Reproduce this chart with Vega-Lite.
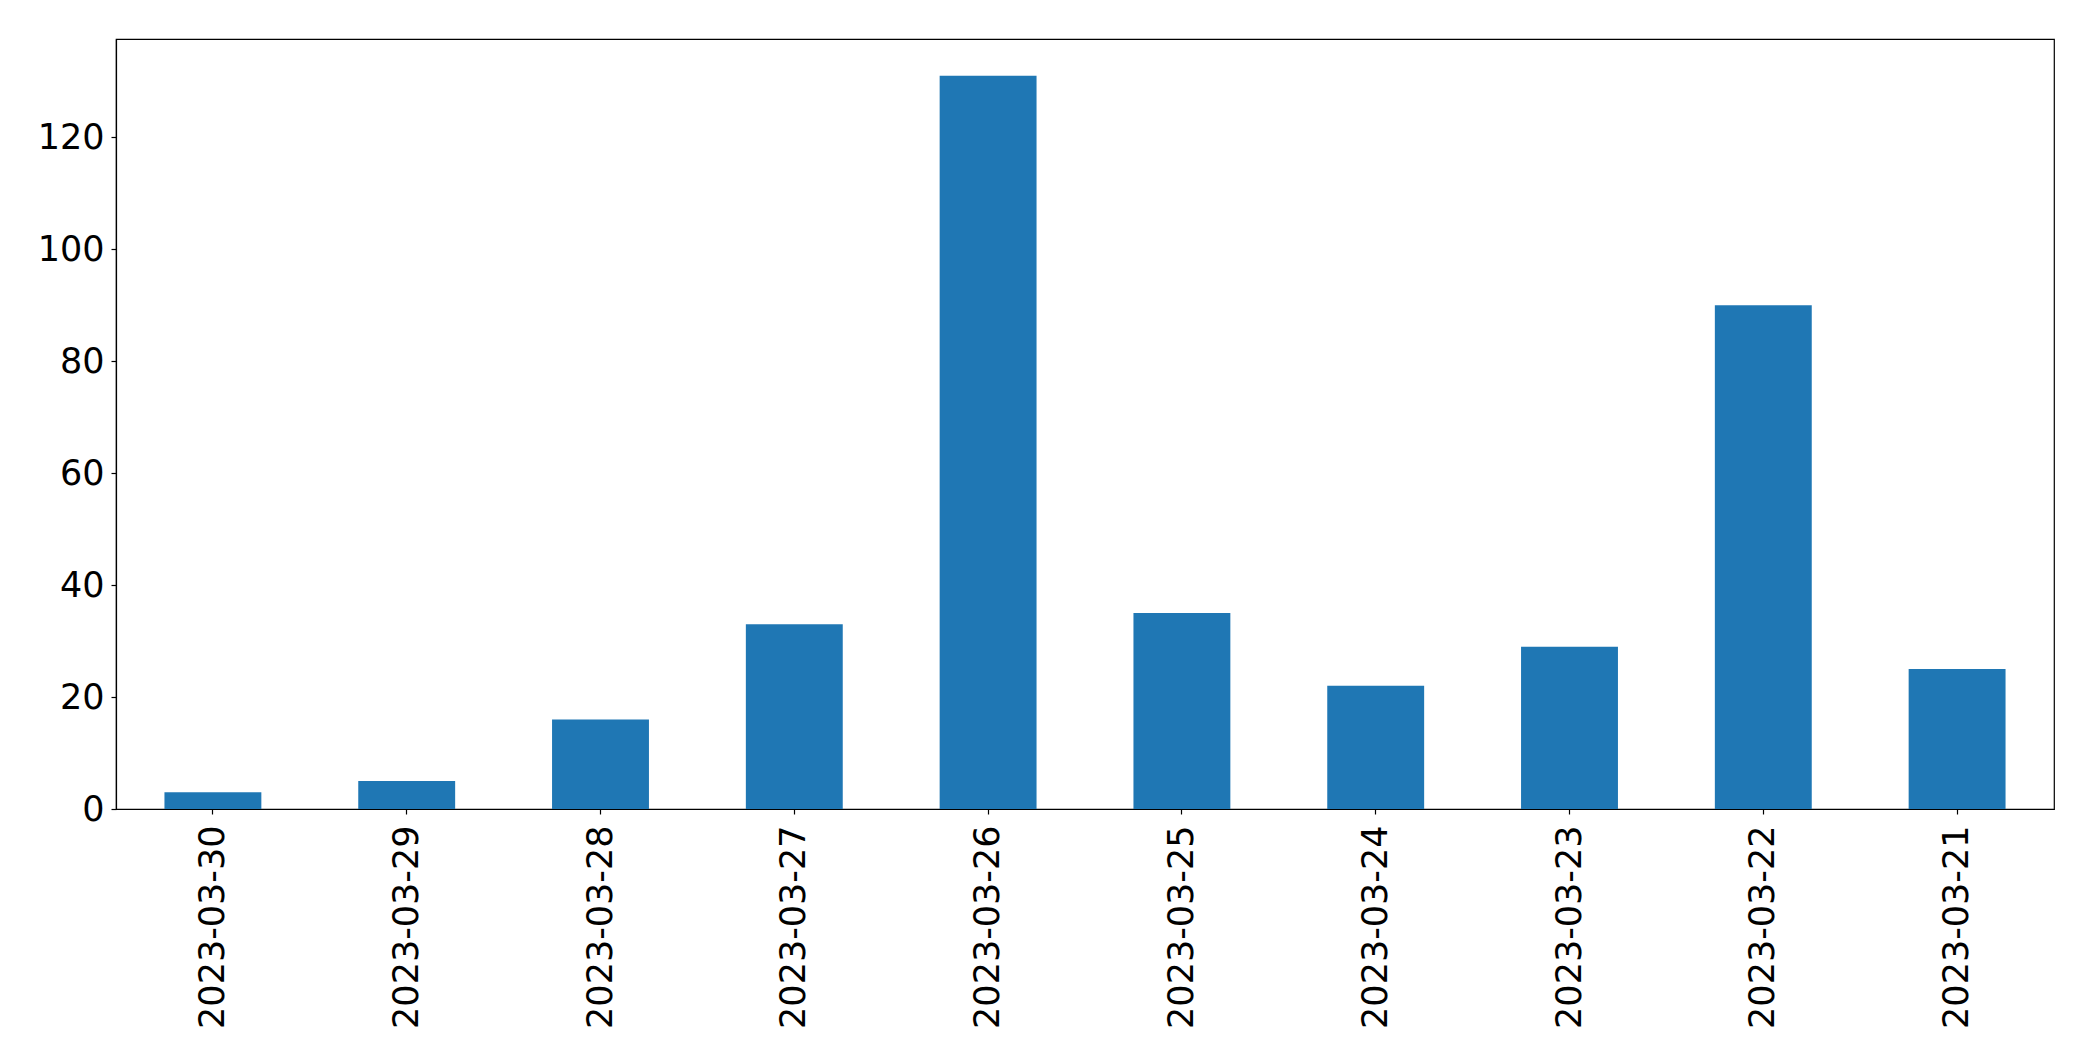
{
  "$schema": "https://vega.github.io/schema/vega-lite/v6.json",
  "autosize": {"type": "none"},
  "padding": {"left": 116, "top": 39, "right": 39, "bottom": 252},
  "width": 1938,
  "height": 770,
  "background": "white",
  "config": {
    "font": "DejaVu Sans",
    "view": {"stroke": "black", "strokeWidth": 1.2},
    "axis": {
      "labelFont": "DejaVu Sans",
      "labelFontSize": 35,
      "labelColor": "black",
      "labelLimit": 0,
      "domainColor": "black",
      "tickColor": "black",
      "tickSize": 5,
      "tickWidth": 1.2,
      "domainWidth": 1.2,
      "grid": false,
      "title": null
    }
  },
  "data": {
    "values": [
      {"date": "2023-03-30", "count": 3},
      {"date": "2023-03-29", "count": 5},
      {"date": "2023-03-28", "count": 16},
      {"date": "2023-03-27", "count": 33},
      {"date": "2023-03-26", "count": 131},
      {"date": "2023-03-25", "count": 35},
      {"date": "2023-03-24", "count": 22},
      {"date": "2023-03-23", "count": 29},
      {"date": "2023-03-22", "count": 90},
      {"date": "2023-03-21", "count": 25}
    ]
  },
  "mark": {"type": "bar", "color": "#1f77b4"},
  "encoding": {
    "x": {
      "field": "date",
      "type": "nominal",
      "sort": null,
      "scale": {"paddingInner": 0.5, "paddingOuter": 0.25},
      "axis": {"labelAngle": -90, "labelPadding": 11}
    },
    "y": {
      "field": "count",
      "type": "quantitative",
      "scale": {"domain": [0, 137.55], "nice": false, "zero": true},
      "axis": {"values": [0, 20, 40, 60, 80, 100, 120], "labelPadding": 7}
    }
  }
}
